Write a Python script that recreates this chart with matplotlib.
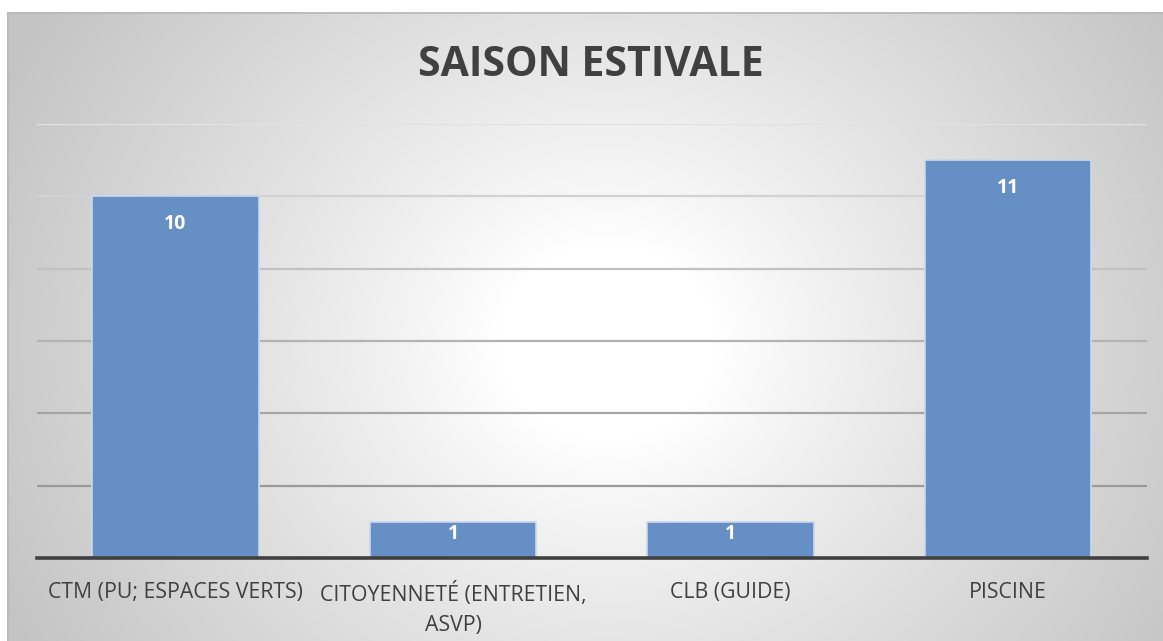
import numpy as np
import matplotlib
matplotlib.use("Agg")
import matplotlib.pyplot as plt

categories = ["CTM (PU; ESPACES VERTS)", "CITOYENNETÉ (ENTRETIEN,\nASVP)", "CLB (GUIDE)", "PISCINE"]
values = [10, 1, 1, 11]
title = "SAISON ESTIVALE"

W, H, DPI = 1163, 641, 100
fig = plt.figure(figsize=(W / DPI, H / DPI), dpi=DPI, facecolor="white")

# background panel with radial gradient
bx0, by_top = 7, 12
bg = fig.add_axes([bx0 / W, 0, 1 - bx0 / W, 1 - by_top / H], zorder=0)
gw, gh = W - bx0, H - by_top
yy, xx = np.mgrid[0:gh, 0:gw]
cx, cy = 600, 330
d = np.sqrt(((xx - cx) / 1.0) ** 2 + ((yy - cy) / 0.9) ** 2)
t = np.clip((d - 110) / 560, 0, 1)
shade = 1.0 - 0.23 * t ** 0.9
img = np.dstack([shade, shade, shade])
bg.imshow(img, aspect="auto", extent=(0, gw, gh, 0), interpolation="bilinear")
bg.set_xlim(0, gw)
bg.set_ylim(gh, 0)
bg.axis("off")
bg.plot([0, gw], [0.5, 0.5], color="#b8b8b8", lw=1.2, solid_capstyle="butt")
bg.plot([0.5, 0.5], [0, gh], color="#b8b8b8", lw=1.2, solid_capstyle="butt")

# main axes
x_left, x_right = 36.75, 1146.75
y_base, y_top = 558, 124
ax = fig.add_axes([x_left / W, (H - y_base) / H, (x_right - x_left) / W, (y_base - y_top) / H], zorder=1)
ax.patch.set_alpha(0)
ax.set_ylim(0, 12)
ax.set_xlim(-0.5, len(categories) - 0.5)

grid_levels = [2, 4, 6, 8, 10, 12]
grid_colors = ["#9a9a9a", "#a6a6a6", "#b3b3b3", "#c2c2c2", "#d2d2d2", "#e2e2e2"]
for lvl, c in zip(grid_levels, grid_colors):
    ax.axhline(lvl, color=c, lw=1.6, zorder=0.5)

x = np.arange(len(categories))
bars = ax.bar(x, values, width=0.6, color="#6690c5", edgecolor="#c9d8ec", linewidth=1.2, zorder=2)

for s in ["top", "right", "left"]:
    ax.spines[s].set_visible(False)
ax.spines["bottom"].set_color("#404040")
ax.spines["bottom"].set_linewidth(2.6)
ax.spines["bottom"].set_zorder(3)
ax.set_yticks([])
ax.set_xticks(x)
ax.set_xticklabels(categories, fontsize=15.3, color="#404040", family="Open Sans",
                   linespacing=1.6)
ax.tick_params(axis="x", length=0, pad=17)

px_per_unit = (y_base - y_top) / 12
for xi, v in zip(x, values):
    bar_px = v * px_per_unit
    off_px = min(28, bar_px * 0.33)
    ax.annotate(str(v), (xi, v), xytext=(0, -off_px * 72 / DPI), textcoords="offset points",
                ha="center", va="center", color="white", fontsize=14, fontweight="bold",
                family="Open Sans", zorder=4)

fig.text((419 + 762) / 2 / W, 1 - 65 / H, title, ha="center", va="center",
         fontsize=29.5, fontweight="bold", color="#404040", family="Open Sans")

fig.savefig("out.png", dpi=DPI, facecolor="white")
